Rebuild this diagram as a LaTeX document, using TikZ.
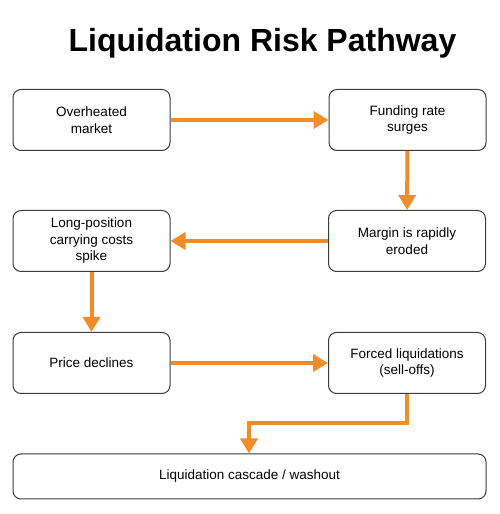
\documentclass[tikz,border=0pt]{standalone}
\usepackage{fontspec}
\setmainfont{Liberation Sans}
\usetikzlibrary{arrows.meta}
\definecolor{arr}{RGB}{242,140,40}
\definecolor{edge}{RGB}{60,60,60}
\begin{document}
\begin{tikzpicture}[x=1pt,y=1pt,
  box/.style={draw=edge,line width=1pt,rounded corners=8pt,fill=white,
    minimum width=157pt,minimum height=61pt,align=center,font=\fontsize{13.5}{16.5}\selectfont,inner sep=2pt},
  flow/.style={draw=arr,line width=4pt,-{Triangle[length=15pt,width=17pt]}}]
\useasboundingbox (0,0) rectangle (500,514);
\node[font=\bfseries\fontsize{32}{36}\selectfont,anchor=base] (title) at (262.5,462) {Liquidation Risk Pathway};
\node[box] (b1) at (91.5,394) {Overheated\\market};
\node[box] (b2) at (407.5,394) {Funding rate\\surges};
\node[box] (b3) at (407,273) {Margin is rapidly\\eroded};
\node[box] (b4) at (91.5,273) {Long-position\\carrying costs\\spike};
\node[box] (b5) at (91.5,151) {Price declines};
\node[box] (b6) at (407,151) {Forced liquidations\\(sell-offs)};
\node[box,minimum width=473pt,minimum height=45pt] (b7) at (249.5,37.5) {Liquidation cascade / washout};
\draw[flow] (b1) -- (b2);
\draw[flow] (b2) -- (b3);
\draw[flow] (b3) -- (b4);
\draw[flow] (b4) -- (b5);
\draw[flow] (b5) -- (b6);
\coordinate (k1) at (407,91);
\coordinate (k2) at (249,91);
\draw[flow] (b6.south) -- (k1) -- (k2) -- (k2 |- b7.north);
\end{tikzpicture}
\end{document}
